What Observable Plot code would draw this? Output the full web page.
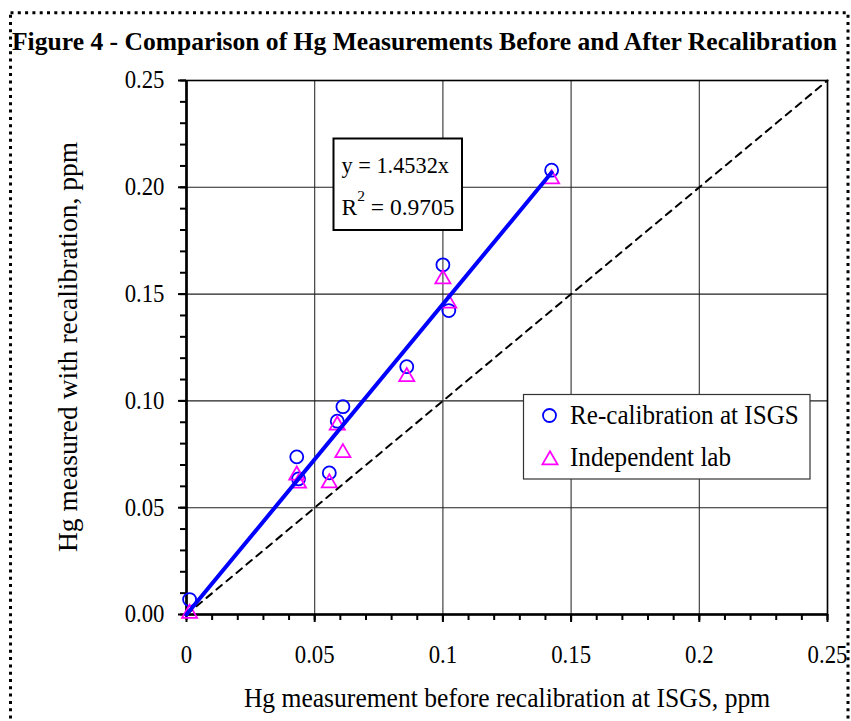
<!DOCTYPE html>
<html>
<head>
<meta charset="utf-8">
<script src="https://cdn.jsdelivr.net/npm/d3@7"></script>
<script src="https://cdn.jsdelivr.net/npm/@observablehq/plot@0.6"></script>
<style>
  body { margin: 0; background: #fff; }
  #wrap { position: relative; width: 851px; height: 721px; overflow: hidden; background: #fff; }
  #overlay { position: absolute; left: 0; top: 0; pointer-events: none; }
  #wrap text { font-family: "Liberation Serif", "Times New Roman", serif; }
</style>
</head>
<body>
<div id="wrap"></div>
<script>
// ---- data ----
const sampleBefore = [0.0012, 0.0430, 0.0437, 0.0557, 0.0588, 0.0610, 0.0859, 0.1000, 0.1023, 0.1424];
const isgsAfter    = [0.0070, 0.0738, 0.0635, 0.0663, 0.0905, 0.0973, 0.1160, 0.1637, 0.1423, 0.2080];
const labAfter     = [0.0005, 0.0652, 0.0614, 0.0616, 0.0886, 0.0757, 0.1113, 0.1571, 0.1457, 0.2039];
const slope = 1.4532;
const rSquared = 0.9705;
const seriesNames = ["Re-calibration at ISGS", "Independent lab"];
const xDomain = [0, 0.25];
const yDomain = [0, 0.25];
const xTickValues = [0, 0.05, 0.1, 0.15, 0.2, 0.25];
const xTickLabels = ["0", "0.05", "0.1", "0.15", "0.2", "0.25"];
const yTickValues = [0, 0.05, 0.1, 0.15, 0.2, 0.25];
const yTickLabels = ["0.00", "0.05", "0.10", "0.15", "0.20", "0.25"];
const minorTickValues = d3.range(26).map(i => i / 100);
const titleText = "Figure 4 - Comparison of Hg Measurements Before and After Recalibration";
const xLabel = "Hg measurement before recalibration at ISGS, ppm";
const yLabel = "Hg measured with recalibration, ppm";

// ---- derived tables ----
const isgs = sampleBefore.map((x, i) => ({x, y: isgsAfter[i]}));
const lab = sampleBefore.map((x, i) => ({x, y: labAfter[i]}));
const xMax = d3.max(sampleBefore);
const trend = [0, xMax].map(x => ({x, y: slope * x}));
const identity = xDomain.map(v => ({x: v, y: v}));

const W = 851, H = 721;
const fontFamily = '"Liberation Serif", "Times New Roman", serif';
const squeeze = 0.93; // the reference text is slightly condensed horizontally

const chart = Plot.plot({
  width: W, height: H,
  marginLeft: 186, marginRight: 24, marginTop: 80, marginBottom: 107,
  x: {domain: xDomain, label: null},
  y: {domain: yDomain, label: null},
  style: {fontFamily, fontSize: "24.5px", color: "black", background: "white", overflow: "visible"},
  marks: [
    Plot.gridX(xTickValues, {stroke: "#303030", strokeOpacity: 1, strokeWidth: 1.1}),
    Plot.gridY(yTickValues, {stroke: "#202020", strokeOpacity: 1, strokeWidth: 1.1}),
    Plot.frame({stroke: "black", strokeWidth: 1.6}),
    Plot.axisX(minorTickValues, {tickSize: 6, tickFormat: () => "", label: null, strokeWidth: 2}),
    Plot.axisY(minorTickValues, {tickSize: 6, tickFormat: () => "", label: null, strokeWidth: 2}),
    Plot.axisX(xTickValues, {tickSize: 8, tickPadding: 23, label: null, strokeWidth: 2,
      tickFormat: d => xTickLabels[xTickValues.indexOf(d)]}),
    Plot.axisY(yTickValues, {tickSize: 8, tickPadding: 14, label: null, strokeWidth: 2,
      tickFormat: d => yTickLabels[yTickValues.indexOf(d)]}),
    Plot.ruleX([xDomain[0]], {stroke: "black", strokeWidth: 2.6}),
    Plot.ruleY([yDomain[0]], {stroke: "black", strokeWidth: 2.6}),
    Plot.dot(isgs, {x: "x", y: "y", r: 6.5, stroke: "#0000ff", strokeWidth: 1.8, fill: "none"}),
    Plot.dot(lab, {x: "x", y: "y", r: 5.6, symbol: "triangle", stroke: "#ff00ff", strokeWidth: 1.8, fill: "none"}),
    Plot.line(identity, {x: "x", y: "y", stroke: "black", strokeWidth: 2, strokeDasharray: "7,6"}),
    Plot.line(trend, {x: "x", y: "y", stroke: "#0000ff", strokeWidth: 4})
  ]
});

const wrap = document.getElementById("wrap");
wrap.appendChild(chart);

function condense(node, factor) {
  const len = node.getComputedTextLength();
  if (len > 0) {
    node.setAttribute("textLength", (len * factor).toFixed(2));
    node.setAttribute("lengthAdjust", "spacingAndGlyphs");
  }
}
chart.querySelectorAll("text").forEach(t => condense(t, squeeze));

// ---- overlay: border, title, axis titles, trendline label, legend ----
const svg = d3.select(wrap).append("svg")
  .attr("id", "overlay").attr("width", W).attr("height", H);

svg.append("rect")
  .attr("x", 10.5).attr("y", 12.8).attr("width", 837.5).attr("height", 760)
  .attr("fill", "none").attr("stroke", "black").attr("stroke-width", 3)
  .attr("stroke-dasharray", "3,4.3");

svg.append("text")
  .attr("x", 12).attr("y", 49.5)
  .attr("font-size", 26).attr("font-weight", "bold")
  .attr("textLength", 825).attr("lengthAdjust", "spacingAndGlyphs")
  .text(titleText);

const xl = svg.append("text")
  .attr("x", 507).attr("y", 707).attr("text-anchor", "middle")
  .attr("font-size", 27.5)
  .text(xLabel);
condense(xl.node(), squeeze);

svg.append("text")
  .attr("transform", "translate(77,347) rotate(-90)").attr("text-anchor", "middle")
  .attr("font-size", 27.5)
  .text(yLabel);

// trendline equation box
svg.append("rect")
  .attr("x", 333.5).attr("y", 138.5).attr("width", 128.5).attr("height", 91.5)
  .attr("fill", "white").attr("stroke", "black").attr("stroke-width", 2);
const eq = svg.append("text")
  .attr("x", 341.5).attr("y", 173).attr("font-size", 24)
  .text(`y = ${slope}x`);
condense(eq.node(), squeeze);
const r2 = svg.append("text").attr("x", 341.5).attr("y", 215).attr("font-size", 23.5);
r2.append("tspan").text("R");
r2.append("tspan").attr("font-size", 15.5).attr("dy", -14).text("2");
r2.append("tspan").attr("dy", 14).text(` = ${rSquared}`);

// legend
svg.append("rect")
  .attr("x", 523.5).attr("y", 394.5).attr("width", 286.5).attr("height", 84.5)
  .attr("fill", "white").attr("stroke", "#333").attr("stroke-width", 1.2);
svg.append("circle")
  .attr("cx", 549.5).attr("cy", 415.5).attr("r", 6.5)
  .attr("fill", "none").attr("stroke", "#0000ff").attr("stroke-width", 1.8);
svg.append("path")
  .attr("transform", "translate(550,460)")
  .attr("d", d3.symbol(d3.symbolTriangle, Math.PI * 5.6 * 5.6)())
  .attr("fill", "none").attr("stroke", "#ff00ff").attr("stroke-width", 1.8);
const l1 = svg.append("text").attr("x", 570).attr("y", 424).attr("font-size", 27).text(seriesNames[0]);
const l2 = svg.append("text").attr("x", 570).attr("y", 466).attr("font-size", 27).text(seriesNames[1]);
condense(l1.node(), squeeze);
condense(l2.node(), squeeze);
</script>
</body>
</html>
